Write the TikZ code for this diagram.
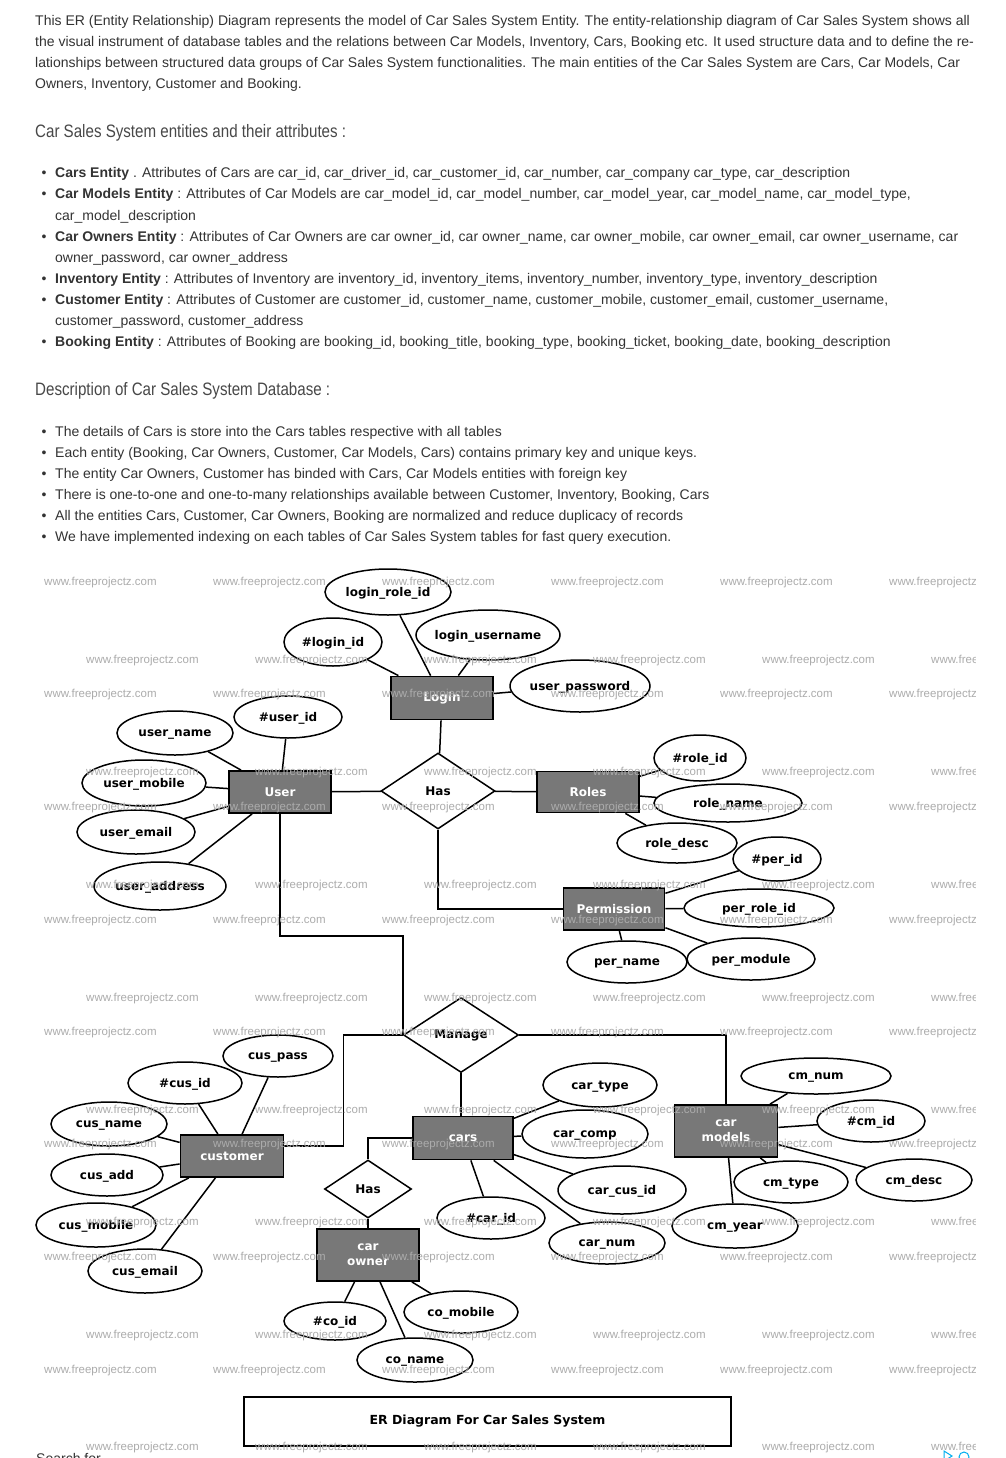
\documentclass[tikz,border=0pt]{standalone}
\usepackage{fontspec}
\usepackage{graphicx}
\setmainfont{Liberation Sans}
\newfontfamily\dv{DejaVu Sans}
\usetikzlibrary{shapes.geometric}
\definecolor{entgray}{RGB}{120,120,120}
\definecolor{txt}{RGB}{51,51,51}
\definecolor{hd}{RGB}{72,72,72}
\definecolor{wmc}{RGB}{172,172,172}
\definecolor{adblue}{RGB}{0,174,239}
\newcommand\attrnode[5]{%
  \node[attr, minimum width=#4pt, minimum height=#5pt] (#1) at (#2) {};
  \node[attrtxt] (#1-t) at ([yshift=-1.5pt]#1.center) {#3};}
\tikzset{
  bt/.style={anchor=base west, inner sep=0pt, text=txt, font=\fontsize{14}{16}\selectfont},
  hdg/.style={anchor=base west, inner sep=0pt, text=hd, font=\fontsize{18}{20}\selectfont},
  bul/.style={anchor=base, inner sep=0pt, text=txt, font=\fontsize{14}{16}\selectfont},
  attr/.style={ellipse, draw=black, line width=1.5pt, fill=white, inner sep=0pt},
  attrtxt/.style={inner sep=0pt, font=\dv\bfseries\fontsize{12}{14}\selectfont},
  ent/.style={rectangle, draw=black, line width=1.8pt, fill=entgray, text=white, inner sep=0pt, align=center, font=\dv\bfseries\fontsize{12}{15}\selectfont},
  rel/.style={diamond, draw=black, line width=1.5pt, fill=white, inner sep=0pt, font=\dv\bfseries\fontsize{12}{14}\selectfont},
  conn/.style={draw=black, line width=1.5pt},
  wm/.style={anchor=west, inner sep=0pt, text=wmc, font=\fontsize{11.5}{12}\selectfont},
}
\begin{document}
\begin{tikzpicture}[x=1pt,y=-1pt]
\useasboundingbox[fill=white] (0,0) rectangle (1005,1458);

% ---------------- intro text ----------------
\node[bt] (t1) at (35,26) {This ER (Entity Relationship) Diagram represents the model of Car Sales System Entity. The entity-relationship diagram of Car Sales System shows all};
\node[bt] (t2) at (35,47) {the visual instrument of database tables and the relations between Car Models, Inventory, Cars, Booking etc. It used structure data and to define the re-};
\node[bt] (t3) at (35,68) {lationships between structured data groups of Car Sales System functionalities. The main entities of the Car Sales System are Cars, Car Models, Car};
\node[bt] (t4) at (35,89) {Owners, Inventory, Customer and Booking.};

\node[hdg] (h1) at (35,138) {\scalebox{0.84}[1]{Car Sales System entities and their attributes :}};

\foreach \yy [count=\i] in {178,199,241,283,304,346} {
  \node[bul] (ba\i) at (44,\yy) {•};
}
\node[bt] (a1) at (55,178) {\textbf{Cars Entity} . Attributes of Cars are car\_id, car\_driver\_id, car\_customer\_id, car\_number, car\_company car\_type, car\_description};
\node[bt] (a2) at (55,199) {\textbf{Car Models Entity} : Attributes of Car Models are car\_model\_id, car\_model\_number, car\_model\_year, car\_model\_name, car\_model\_type,};
\node[bt] (a2b) at (55,220) {car\_model\_description};
\node[bt] (a3) at (55,241) {\textbf{Car Owners Entity} : Attributes of Car Owners are car owner\_id, car owner\_name, car owner\_mobile, car owner\_email, car owner\_username, car};
\node[bt] (a3b) at (55,262) {owner\_password, car owner\_address};
\node[bt] (a4) at (55,283) {\textbf{Inventory Entity} : Attributes of Inventory are inventory\_id, inventory\_items, inventory\_number, inventory\_type, inventory\_description};
\node[bt] (a5) at (55,304) {\textbf{Customer Entity} : Attributes of Customer are customer\_id, customer\_name, customer\_mobile, customer\_email, customer\_username,};
\node[bt] (a5b) at (55,325) {customer\_password, customer\_address};
\node[bt] (a6) at (55,346) {\textbf{Booking Entity} : Attributes of Booking are booking\_id, booking\_title, booking\_type, booking\_ticket, booking\_date, booking\_description};

\node[hdg] (h2) at (35,395) {\scalebox{0.84}[1]{Description of Car Sales System Database :}};

\foreach \yy [count=\i] in {436,457,478,499,520,541} {
  \node[bul] (bd\i) at (44,\yy) {•};
}
\node[bt] (d1) at (55,436) {The details of Cars is store into the Cars tables respective with all tables};
\node[bt] (d2) at (55,457) {Each entity (Booking, Car Owners, Customer, Car Models, Cars) contains primary key and unique keys.};
\node[bt] (d3) at (55,478) {The entity Car Owners, Customer has binded with Cars, Car Models entities with foreign key};
\node[bt] (d4) at (55,499) {There is one-to-one and one-to-many relationships available between Customer, Inventory, Booking, Cars};
\node[bt] (d5) at (55,520) {All the entities Cars, Customer, Car Owners, Booking are normalized and reduce duplicacy of records};
\node[bt] (d6) at (55,541) {We have implemented indexing on each tables of Car Sales System tables for fast query execution.};

% ---------------- entities ----------------
\node[ent, minimum width=102pt, minimum height=43pt] (login) at (442,698) {\raisebox{-2pt}{Login}};
\node[ent, minimum width=102pt, minimum height=42pt] (user) at (280,792) {User};
\node[ent, minimum width=102pt, minimum height=41pt] (roles) at (588,792) {Roles};
\node[ent, minimum width=101pt, minimum height=42pt] (perm) at (614,909) {Permission};
\node[ent, minimum width=103pt, minimum height=42pt] (cust) at (232,1156) {customer};
\node[ent, minimum width=100pt, minimum height=43pt] (cars) at (463,1138) {cars};
\node[ent, minimum width=103pt, minimum height=52pt] (cmod) at (726,1131) {car\\models};
\node[ent, minimum width=102pt, minimum height=52pt] (cown) at (368,1255) {car\\owner};

% ---------------- relationships ----------------
\node[rel, minimum width=114pt, minimum height=76pt] (has1) at (438,791) {Has};
\node[rel, minimum width=115pt, minimum height=75pt] (manage) at (461,1035) {Manage};
\node[rel, minimum width=87pt, minimum height=58pt] (has2) at (368,1189) {Has};

% ---------------- attributes ----------------
\attrnode{lrid}{388,592}{login\_role\_id}{126}{46}
\attrnode{lid}{333,642}{\#login\_id}{98}{48}
\attrnode{lun}{488,635}{login\_username}{144}{50}
\attrnode{upw}{580,686}{user\_password}{140}{52}
\attrnode{uid}{288,717}{\#user\_id}{108}{42}
\attrnode{unm}{175,733}{user\_name}{116}{44}
\attrnode{umo}{144,783}{user\_mobile}{124}{46}
\attrnode{uem}{136,832}{user\_email}{118}{44}
\attrnode{uad}{160,886}{user\_address}{132}{48}
\attrnode{rid}{700,758}{\#role\_id}{92}{46}
\attrnode{rnm}{728,803}{role\_name}{148}{38}
\attrnode{rde}{677,843}{role\_desc}{120}{40}
\attrnode{pid}{777,859}{\#per\_id}{88}{44}
\attrnode{prid}{759,908}{per\_role\_id}{150}{38}
\attrnode{pnm}{627,962}{per\_name}{120}{42}
\attrnode{pmo}{751,959}{per\_module}{128}{42}
\attrnode{cpa}{278,1056}{cus\_pass}{110}{42}
\attrnode{cid}{185,1083}{\#cus\_id}{114}{42}
\attrnode{cnm}{109,1124}{cus\_name}{116}{44}
\attrnode{cad}{107,1175}{cus\_add}{112}{42}
\attrnode{cmo}{96,1225}{cus\_mobile}{120}{44}
\attrnode{cem}{145,1271}{cus\_email}{114}{44}
\attrnode{cty}{600,1085}{car\_type}{114}{44}
\attrnode{cco}{585,1134}{car\_comp}{126}{48}
\attrnode{ccid}{622,1190}{car\_cus\_id}{128}{48}
\attrnode{carid}{491,1218}{\#car\_id}{108}{42}
\attrnode{cnum}{607,1243}{car\_num}{116}{42}
\attrnode{cmn}{816,1076}{cm\_num}{150}{36}
\attrnode{cmid}{871,1121}{\#cm\_id}{108}{42}
\attrnode{cmt}{791,1182}{cm\_type}{114}{42}
\attrnode{cmd}{914,1180}{cm\_desc}{116}{42}
\attrnode{cmy}{735,1226}{cm\_year}{126}{44}
\attrnode{coid}{335,1321}{\#co\_id}{102}{38}
\attrnode{comob}{461,1312}{co\_mobile}{114}{42}
\attrnode{conm}{415,1360}{co\_name}{116}{44}

% ---------------- connectors ----------------
\foreach \a/\b in {login/lrid, login/lid, login/lun, login/upw, login/has1,
  user/uid, user/unm, user/umo, user/uem, user/uad, user/has1, has1/roles,
  roles/rid, roles/rnm, roles/rde,
  perm/pid, perm/prid, perm/pmo, perm/pnm,
  cust/cpa, cust/cid, cust/cnm, cust/cad, cust/cmo, cust/cem,
  cars/cty, cars/cco, cars/ccid, cars/carid, cars/cnum,
  cmod/cmn, cmod/cmid, cmod/cmd, cmod/cmt, cmod/cmy,
  cown/coid, cown/conm, cown/comob, has2/cown} {
  \draw[conn] (\a) -- (\b);
}
\draw[conn] (user.south) -- ++(0,122) -| (manage.west);
\draw[conn] (has1.south) |- (perm.west);
\draw[conn] (manage.east) -| (cmod.north);
\draw[conn] (manage.south) -- (manage.south |- cars.north);
\draw[conn] ([yshift=10pt]cust.east) -- ++(59,0) |- (manage.west);
\draw[conn] (cars.west) -| (has2.north);

% ---------------- title ----------------
\node[draw=black, line width=2pt, minimum width=487pt, minimum height=49pt, inner sep=0pt,
  font=\dv\bfseries\fontsize{12.5}{14}\selectfont] (title) at (487.5,1421.5) {ER Diagram For Car Sales System};

% ---------------- watermark ----------------
\begin{scope}
\clip (35,565) rectangle (975,1458);
\foreach \yy in {583,695,808,921,1033,1145,1258,1371} {
  \foreach \xx in {44,213,382,551,720,889} {
    \node[wm] (wa-\xx-\yy) at (\xx,\yy) {www.freeprojectz.com};
  }
}
\foreach \yy in {661,773,886,999,1111,1223,1336,1448} {
  \foreach \xx in {86,255,424,593,762,931} {
    \node[wm] (wb-\xx-\yy) at (\xx,\yy) {www.freeprojectz.com};
  }
}
\end{scope}

% ---------------- page footer ----------------
\node[anchor=base west, inner sep=0pt, text=txt, font=\fontsize{14}{16}\selectfont] (search) at (36,1463) {Search for};
\draw[adblue, line width=1pt] (944,1451) -- (952,1456) -- (944,1461) -- cycle;
\draw[adblue, line width=1pt] (964,1457) circle (5);
\end{tikzpicture}
\end{document}
